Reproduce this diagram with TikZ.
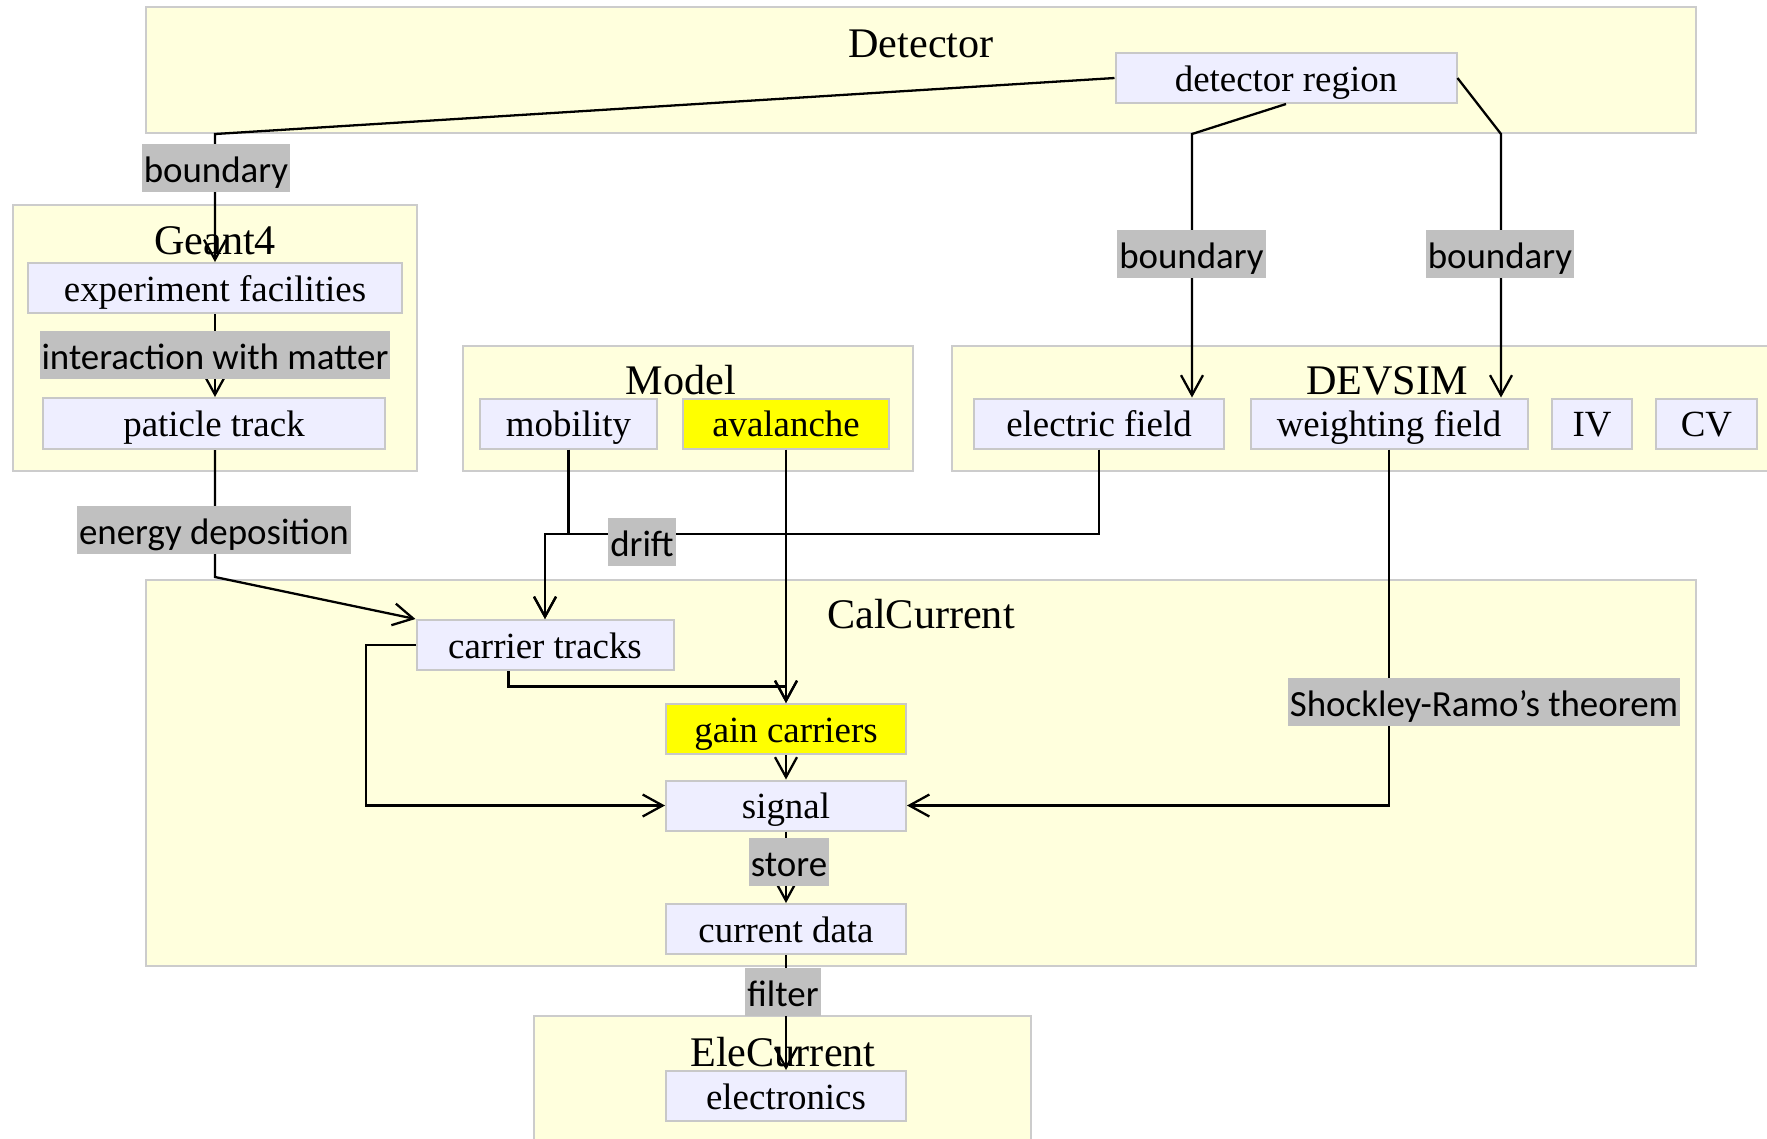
\documentclass[tikz,border=0pt]{standalone}
\usepackage{fontspec}
\setmainfont{Liberation Serif}
\newfontfamily\lblf{Carlito}
\usetikzlibrary{arrows.meta}
\definecolor{clyellow}{HTML}{FFFFDD}
\definecolor{clborder}{HTML}{CCCCCC}
\definecolor{ndlav}{HTML}{EEEEFF}
\definecolor{ndborder}{HTML}{C8C8C8}
\definecolor{lblgray}{HTML}{C0C0C0}
\definecolor{hiyellow}{HTML}{FFFF00}
\tikzset{
  cluster/.style={draw=clborder, fill=clyellow, line width=0.25mm, inner sep=0pt},
  cltitle/.style={font=\fontsize{12}{14}\selectfont, anchor=base, inner sep=0pt},
  nd/.style={draw=ndborder, fill=ndlav, line width=0.2mm, inner sep=0pt,
    minimum height=5mm, text height=3.05mm, text depth=0.45mm,
    font=\fontsize{10.5}{12.6}\selectfont},
  hi/.style={nd, fill=hiyellow},
  lbl/.style={fill=lblgray, inner xsep=0.2mm, inner ysep=0pt, minimum height=4.8mm,
    text height=3.35mm, text depth=0.4mm, font=\lblf\fontsize{10.5}{12.6}\selectfont},
  edge/.style={line width=0.65pt, -{Straight Barb[length=2mm,width=2.2mm]}},
  seg/.style={line width=0.65pt}
}
\begin{document}
\begin{tikzpicture}[x=0.1mm, y=-0.1mm]
\useasboundingbox (0,0) rectangle (1767,1138);
\clip (0,0) rectangle (1767,1138);
\fill[white] (0,0) rectangle (1767,1138);

% clusters
\node[cluster, minimum width=155mm, minimum height=12.6mm] (det) at (921,70) {};
\node[cluster, minimum width=40.4mm, minimum height=26.6mm] (geant) at (215,338) {};
\node[cluster, minimum width=45mm, minimum height=12.5mm] (model) at (688,408.5) {};
\node[cluster, minimum width=83.8mm, minimum height=12.5mm] (devsim) at (1371,408.5) {};
\node[cluster, minimum width=155mm, minimum height=38.6mm] (calc) at (921,773) {};
\node[cluster, minimum width=49.7mm, minimum height=14.4mm] (elec) at (782.5,1088) {};

% cluster titles
\node[cltitle] (tdet) at (921,57) {Detector};
\node[cltitle] (tgeant) at (215,254) {Geant4};
\node[cltitle] (tmodel) at (681,394) {Model};
\node[cltitle] (tdevsim) at (1387,394) {DEVSIM};
\node[cltitle] (tcalc) at (921,628) {CalCurrent};
\node[cltitle] (telec) at (783,1066) {EleCurrent};

% nodes
\node[nd, minimum width=34.1mm] (detreg) at (1286,78) {detector region};
\node[nd, minimum width=37.4mm] (expfac) at (215,288) {experiment facilities};
\node[nd, minimum width=34.2mm, minimum height=5.1mm] (ptrack) at (214,423.5) {paticle track};
\node[nd, minimum width=17.7mm] (mobility) at (568.5,423.5) {mobility};
\node[hi, minimum width=20.6mm] (aval) at (786,423.5) {avalanche};
\node[nd, minimum width=25.0mm] (efield) at (1099,423.5) {electric field};
\node[nd, minimum width=27.7mm] (wfield) at (1389,423.5) {weighting field};
\node[nd, minimum width=8.0mm] (iv) at (1592,423.5) {IV};
\node[nd, minimum width=10.1mm] (cv) at (1706.5,423.5) {CV};
\node[nd, minimum width=25.7mm] (ctracks) at (545,645) {carrier tracks};
\node[hi, minimum width=24.0mm] (gain) at (786,729) {gain carriers};
\node[nd, minimum width=24.0mm] (signal) at (786,805.5) {signal};
\node[nd, minimum width=24.0mm] (cdata) at (786,929) {current data};
\node[nd, minimum width=24.0mm] (elecs) at (786,1096) {electronics};

% bend points
\coordinate (b1) at (215,134);
\coordinate (b2) at (1192,134);
\coordinate (b3) at (1501,134);
\coordinate (b5) at (215,577);
\coordinate (j) at (545,534);
\coordinate (c9) at (508.6,686.5);
\coordinate (c11) at (366,805.5);

% edges
\draw[edge] (detreg.west) -- (b1) -- (expfac.north);
\draw[edge] (detreg.south) -- (b2) -- (b2 |- efield.north);
\draw[edge] (detreg.east) -- (b3) -- (b3 |- wfield.north);
\draw[edge] (expfac.south) -- (expfac.south |- ptrack.north);
\draw[edge] (ptrack.south -| b5) -- (b5) -- (ctracks.north west);
\draw[edge] (mobility.south) -- (mobility.south |- j) -- (j) -- (ctracks.north);
\draw[edge] (efield.south) -- (efield.south |- j) -- (j) -- (ctracks.north);
\draw[edge] (aval.south) -- (gain.north);
\draw[edge] (c9 |- ctracks.south) -- (c9) -- (c9 -| gain.north) -- (gain.north);
\draw[edge] (gain.south) -- (signal.north);
\draw[edge] (ctracks.west) -- (ctracks.west -| c11) -- (c11) -- (signal.west);
\draw[edge] (wfield.south) |- (signal.east);
\draw[edge] (signal.south) -- (cdata.north);
\draw[edge] (cdata.south) -- (elecs.north);

% edge labels
\node[lbl] (l1) at (216,168) {boundary};
\node[lbl] (l2) at (1191.5,254) {boundary};
\node[lbl] (l3) at (1500,254) {boundary};
\node[lbl] (l4) at (215,355) {interaction with matter};
\node[lbl] (l5) at (214,530) {energy deposition};
\node[lbl] (l6) at (642,542) {drift};
\node[lbl] (l7) at (1484,702) {Shockley-Ramo’s theorem};
\node[lbl] (l8) at (789,861.5) {store};
\node[lbl] (l9) at (783,992) {filter};
\end{tikzpicture}
\end{document}
